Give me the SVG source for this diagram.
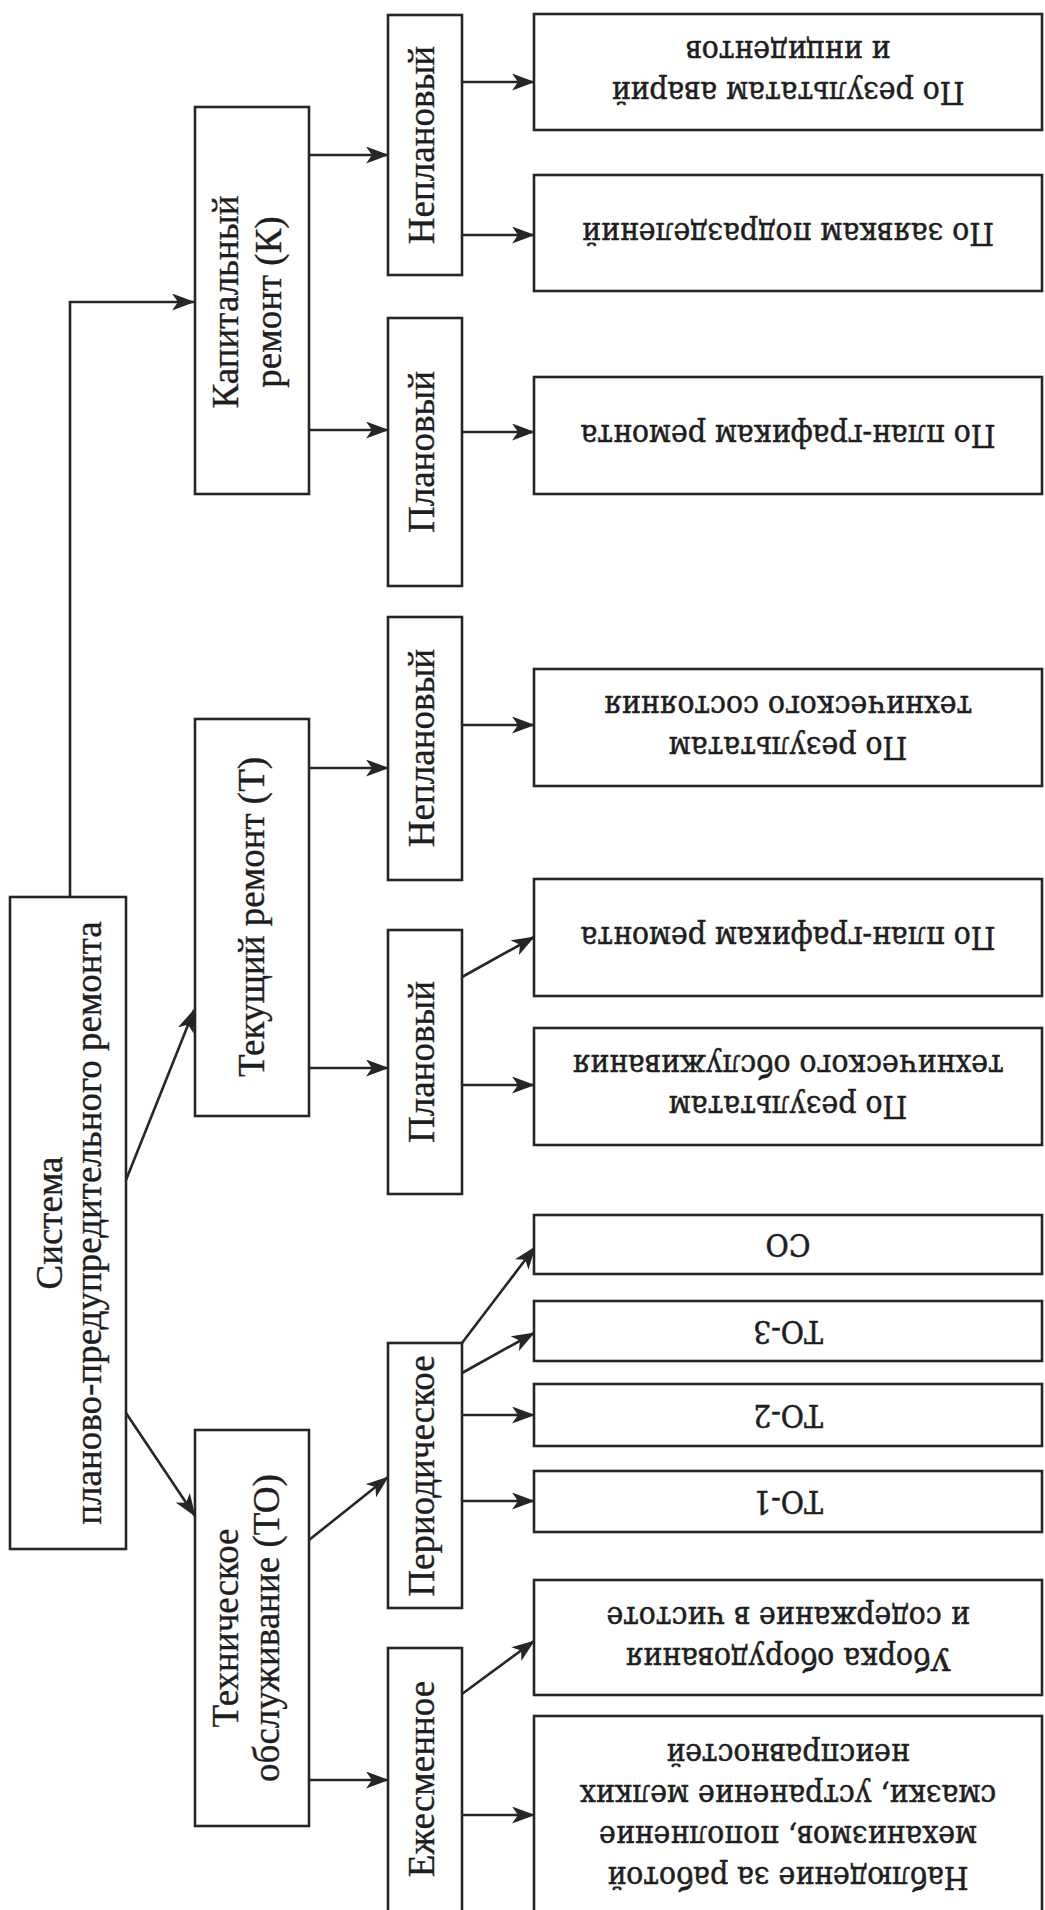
<svg xmlns="http://www.w3.org/2000/svg" width="1045" height="1910" viewBox="0 0 1045 1910">
<defs>
<marker id="ah" markerUnits="userSpaceOnUse" markerWidth="23" markerHeight="17" refX="22" refY="8.5" orient="auto">
<path d="M0,0 L23,8.5 L0,17 L6,8.5 Z" fill="#262626"/>
</marker>
<style>
.box{fill:#fff;stroke:#262626;stroke-width:2.6}
.c{fill:none;stroke:#262626;stroke-width:2.6;marker-end:url(#ah)}
.v{font-family:"Liberation Serif","Times New Roman",serif;font-size:37px;fill:#1e1e1e;stroke:#1e1e1e;stroke-width:0.35;text-anchor:middle}
.r{font-family:"DejaVu Serif Condensed","DejaVu Serif",serif;font-stretch:condensed;font-size:31.5px;fill:#1e1e1e;stroke:#1e1e1e;stroke-width:0.5;text-anchor:middle}
</style>
</defs>
<rect width="1045" height="1910" fill="#fff"/>

<g id="connectors">
<path class="c" d="M70,897 V302 H194"/>
<path class="c" d="M126,1180 L194,1010"/>
<path class="c" d="M126,1413 L195,1516"/>
<path class="c" d="M309,155 H388"/>
<path class="c" d="M309,430 H388"/>
<path class="c" d="M462,82 H534"/>
<path class="c" d="M462,235 H534"/>
<path class="c" d="M462,432 H534"/>
<path class="c" d="M309,768 H388"/>
<path class="c" d="M309,1068 H388"/>
<path class="c" d="M462,725 H534"/>
<path class="c" d="M462,977 L534,937"/>
<path class="c" d="M462,1085 H534"/>
<path class="c" d="M309,1540 L388,1477"/>
<path class="c" d="M309,1780 H388"/>
<path class="c" d="M462,1343 L535,1247"/>
<path class="c" d="M462,1373 L534,1333"/>
<path class="c" d="M462,1415 H534"/>
<path class="c" d="M462,1501 H534"/>
<path class="c" d="M462,1694 L534,1641"/>
<path class="c" d="M462,1815 H534"/>
</g>

<g id="system">
<rect class="box" x="10" y="897" width="116" height="652"/>
<text class="v" transform="translate(62,1223) rotate(-90)">Система</text>
<text class="v" transform="translate(101,1223) rotate(-90)">планово-предупредительного ремонта</text>
</g>

<g id="kapital">
<rect class="box" x="195" y="107" width="114" height="387"/>
<text class="v" transform="translate(238,302) rotate(-90)">Капитальный</text>
<text class="v" transform="translate(281,302) rotate(-90)">ремонт (К)</text>
</g>
<g id="tekushiy">
<rect class="box" x="195" y="719" width="114" height="397"/>
<text class="v" transform="translate(264,917) rotate(-90)">Текущий ремонт (Т)</text>
</g>
<g id="to">
<rect class="box" x="195" y="1430" width="114" height="396"/>
<text class="v" transform="translate(238,1628) rotate(-90)">Техническое</text>
<text class="v" transform="translate(279,1628) rotate(-90)">обслуживание (ТО)</text>
</g>

<g id="k-neplan">
<rect class="box" x="388" y="15" width="74" height="260"/>
<text class="v" transform="translate(434,145) rotate(-90)">Неплановый</text>
</g>
<g id="k-plan">
<rect class="box" x="388" y="318" width="74" height="268"/>
<text class="v" transform="translate(434,452) rotate(-90)">Плановый</text>
</g>
<g id="t-neplan">
<rect class="box" x="388" y="617" width="74" height="263"/>
<text class="v" transform="translate(434,748) rotate(-90)">Неплановый</text>
</g>
<g id="t-plan">
<rect class="box" x="388" y="930" width="74" height="264"/>
<text class="v" transform="translate(434,1062) rotate(-90)">Плановый</text>
</g>
<g id="to-period">
<rect class="box" x="388" y="1343" width="74" height="265"/>
<text class="v" transform="translate(434,1476) rotate(-90)">Периодическое</text>
</g>
<g id="to-smena">
<rect class="box" x="388" y="1648" width="74" height="290"/>
<text class="v" transform="translate(434,1779) rotate(-90)">Ежесменное</text>
</g>

<g id="r1">
<rect class="box" x="534" y="14" width="508" height="116"/>
<text class="r" transform="translate(788,82) rotate(180)">По результатам аварий</text>
<text class="r" transform="translate(788,41) rotate(180)">и инцидентов</text>
</g>
<g id="r2">
<rect class="box" x="534" y="175" width="508" height="116"/>
<text class="r" transform="translate(788,223) rotate(180)">По заявкам подразделений</text>
</g>
<g id="r3">
<rect class="box" x="534" y="377" width="508" height="117"/>
<text class="r" transform="translate(788,425) rotate(180)">По план-графикам ремонта</text>
</g>
<g id="r4">
<rect class="box" x="534" y="669" width="508" height="117"/>
<text class="r" transform="translate(788,737) rotate(180)">По результатам</text>
<text class="r" transform="translate(788,696) rotate(180)">технического состояния</text>
</g>
<g id="r5">
<rect class="box" x="534" y="879" width="508" height="117"/>
<text class="r" transform="translate(788,927) rotate(180)">По план-графикам ремонта</text>
</g>
<g id="r6">
<rect class="box" x="534" y="1028" width="508" height="117"/>
<text class="r" transform="translate(788,1096) rotate(180)">По результатам</text>
<text class="r" transform="translate(788,1055) rotate(180)">технического обслуживания</text>
</g>
<g id="r-so">
<rect class="box" x="534" y="1215" width="508" height="59"/>
<text class="r" transform="translate(788,1234) rotate(180)">СО</text>
</g>
<g id="r-to3">
<rect class="box" x="534" y="1301" width="508" height="60"/>
<text class="r" transform="translate(788,1321) rotate(180)">ТО-3</text>
</g>
<g id="r-to2">
<rect class="box" x="534" y="1384" width="508" height="62"/>
<text class="r" transform="translate(788,1405) rotate(180)">ТО-2</text>
</g>
<g id="r-to1">
<rect class="box" x="534" y="1471" width="508" height="61"/>
<text class="r" transform="translate(788,1491) rotate(180)">ТО-1</text>
</g>
<g id="r-uborka">
<rect class="box" x="534" y="1580" width="508" height="115"/>
<text class="r" transform="translate(788,1648) rotate(180)">Уборка оборудования</text>
<text class="r" transform="translate(788,1607) rotate(180)">и содержание в чистоте</text>
</g>
<g id="r-nabl">
<rect class="box" x="534" y="1716" width="508" height="220"/>
<text class="r" transform="translate(788,1867) rotate(180)">Наблюдение за работой</text>
<text class="r" transform="translate(788,1826) rotate(180)">механизмов, пополнение</text>
<text class="r" transform="translate(788,1785) rotate(180)">смазки, устранение мелких</text>
<text class="r" transform="translate(788,1744) rotate(180)">неисправностей</text>
</g>
</svg>
